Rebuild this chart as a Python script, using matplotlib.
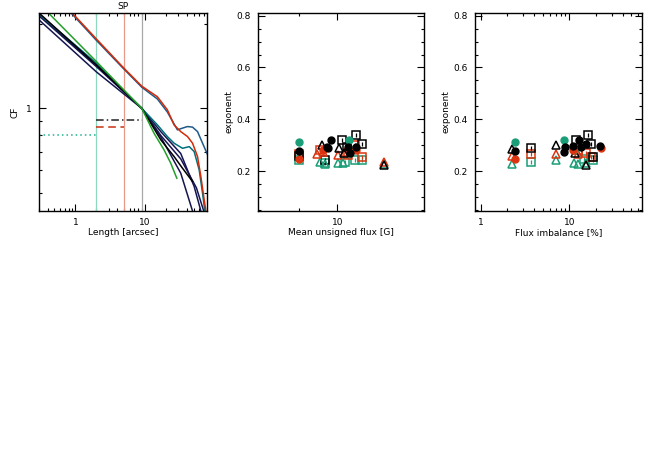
import matplotlib
matplotlib.use("Agg")
import matplotlib.pyplot as plt
from matplotlib.ticker import FixedLocator, FixedFormatter, NullFormatter

# ---- panel 1: CF curves (SP) ----
red_x = [0.9, 2, 5, 9, 15.1, 21, 26.2, 32.7, 40.9, 48.3, 57, 63.7, 71.1, 75.2]
red_y = [2.19, 1.77, 1.39, 1.20, 1.10, 0.988, 0.873, 0.826, 0.793, 0.751, 0.673, 0.57, 0.471, 0.43]
blue_x = [0.9, 2, 5, 9, 15.1, 21, 26.2, 29.3, 34.7, 40.9, 48.3, 57, 67.3, 77.7, 80]
blue_y = [2.17, 1.75, 1.38, 1.19, 1.08, 0.97, 0.88, 0.838, 0.85, 0.861, 0.857, 0.826, 0.751, 0.692, 0.68]
teal_x = [0.3, 2, 9, 15.1, 21, 26.2, 34.7, 43.3, 51, 60.2, 67.3, 72.6]
teal_y = [2.17, 1.45, 1.0, 0.873, 0.793, 0.751, 0.72, 0.73, 0.701, 0.603, 0.498, 0.43]
green_x = [0.41, 2, 4.0, 9, 13.5, 18.8, 23.5, 28.7]
green_y = [2.19, 1.47, 1.23, 1.0, 0.815, 0.711, 0.637, 0.563]
black_x = [0.3, 2, 9, 16.9, 26.2, 34.7, 48.3]
black_y = [2.19, 1.43, 1.0, 0.772, 0.673, 0.611, 0.548]
navy1_x = [0.3, 2, 9, 16.9, 32.7, 51, 63.7]
navy1_y = [2.07, 1.35, 1.0, 0.826, 0.69, 0.526, 0.43]
navy2_x = [0.3, 2, 9, 16.9, 32.7, 48.3]
navy2_y = [2.14, 1.41, 1.0, 0.79, 0.587, 0.43]
navy3_x = [0.3, 2, 9, 16.9, 32.7, 55, 70]
navy3_y = [2.16, 1.42, 1.0, 0.80, 0.66, 0.52, 0.43]

vlines_x = [2, 5, 9]
dot_level = 0.805     # teal dotted, up to 2"
dash_level = 0.859    # red dashed, 2"-5"
dashdot_level = 0.905 # black dash-dot, 2"-9"

# ---- panel 2: exponent vs mean unsigned flux ----
p2_gc_x = [4.99, 12.4]
p2_gc_y = [0.313, 0.319]
p2_kc_x = [4.99, 8.91, 8.24, 8.48, 12.2, 12.6, 14.1]
p2_kc_y = [0.278, 0.322, 0.294, 0.290, 0.294, 0.271, 0.294]
p2_rc_x = [4.99, 14.1, 7.75]
p2_rc_y = [0.249, 0.281, 0.281]
p2_kt_x = [7.52, 10.3, 11.3, 23.6]
p2_kt_y = [0.303, 0.290, 0.271, 0.225]
p2_rt_x = [6.86, 7.75, 10.2, 11.5, 23.6]
p2_rt_y = [0.266, 0.274, 0.262, 0.274, 0.235]
p2_gt_x = [7.29, 7.99, 10.2, 11.2, 23.6]
p2_gt_y = [0.236, 0.230, 0.232, 0.232, 0.228]
p2_ks_x = [4.99, 7.99, 11.0, 12.0, 14.0, 15.6]
p2_ks_y = [0.258, 0.245, 0.322, 0.294, 0.339, 0.304]
p2_rs_x = [4.99, 7.29, 13.8, 15.6, 12.2]
p2_rs_y = [0.266, 0.281, 0.300, 0.255, 0.262]
p2_gs_x = [4.99, 7.99, 11.5, 13.8, 15.6]
p2_gs_y = [0.245, 0.232, 0.236, 0.245, 0.245]

# ---- panel 3: exponent vs flux imbalance ----
p3_gc_x = [2.42, 8.77, 11.2]
p3_gc_y = [0.313, 0.319, 0.281]
p3_kc_x = [2.42, 9.0, 8.77, 10.9, 13.0, 13.6, 15.5, 22.0]
p3_kc_y = [0.278, 0.294, 0.274, 0.299, 0.322, 0.294, 0.304, 0.298]
p3_rc_x = [2.42, 10.9, 22.6]
p3_rc_y = [0.249, 0.281, 0.290]
p3_kt_x = [2.26, 7.05, 11.7, 15.5]
p3_kt_y = [0.287, 0.303, 0.271, 0.223]
p3_rt_x = [2.26, 7.05, 12.4]
p3_rt_y = [0.258, 0.266, 0.266]
p3_gt_x = [2.26, 7.05, 11.4, 12.4, 15.2]
p3_gt_y = [0.230, 0.245, 0.232, 0.230, 0.232]
p3_ks_x = [3.66, 11.9, 16.2, 17.7, 18.4]
p3_ks_y = [0.290, 0.322, 0.339, 0.304, 0.255]
p3_rs_x = [3.66, 12.4, 15.5, 17.7]
p3_rs_y = [0.268, 0.283, 0.271, 0.255]
p3_gs_x = [3.66, 14.8, 18.4]
p3_gs_y = [0.236, 0.249, 0.242]

GREEN = "#1a9e77"
RED = "#dc3410"
BLACK = "#000000"

plt.rcParams["font.family"] = "DejaVu Sans"
plt.rcParams["font.size"] = 6.5


def style_axes(ax):
    for s in ax.spines.values():
        s.set_linewidth(1.0)
    ax.tick_params(which="both", direction="in", top=True, right=True, width=0.8)
    ax.tick_params(which="major", length=5, labelsize=6.5, pad=5)
    ax.tick_params(which="minor", length=2.5)


fig = plt.figure(figsize=(6.54, 4.72), dpi=100)

# panel 1
ax1 = fig.add_axes([39 / 654, 1 - 211 / 472, 168 / 654, 198 / 472])
ax1.set_xscale("log")
ax1.set_yscale("log")
ax1.set_xlim(0.3, 78)
ax1.set_ylim(0.43, 2.19)
ax1.axvline(vlines_x[0], color="#8fd8c0", lw=0.9)
ax1.axvline(vlines_x[1], color="#e89a88", lw=0.9)
ax1.axvline(vlines_x[2], color="#a8a8a8", lw=0.9)
ax1.plot([0.3, vlines_x[0]], [dot_level, dot_level], color="#20b090", lw=1.1, ls=(0, (1, 2)))
ax1.plot([vlines_x[0], vlines_x[1]], [dash_level, dash_level], color="#c83010", lw=1.1, ls=(0, (5, 3)))
ax1.plot([vlines_x[0], vlines_x[2]], [dashdot_level, dashdot_level], color="#222222", lw=1.1, ls=(0, (5, 2, 1, 2)))
lw = 1.1
ax1.plot(navy1_x, navy1_y, color="#151550", lw=lw)
ax1.plot(navy3_x, navy3_y, color="#151550", lw=lw)
ax1.plot(navy2_x, navy2_y, color="#151550", lw=lw)
ax1.plot(blue_x, blue_y, color="#1f5a88", lw=lw)
ax1.plot(teal_x, teal_y, color="#00707a", lw=lw)
ax1.plot(black_x, black_y, color="#000000", lw=lw)
ax1.plot(green_x, green_y, color="#22a02a", lw=lw)
ax1.plot(red_x, red_y, color="#d42a0a", lw=lw)
ax1.xaxis.set_major_locator(FixedLocator([1, 10]))
ax1.xaxis.set_major_formatter(FixedFormatter(["1", "10"]))
ax1.xaxis.set_minor_locator(FixedLocator([0.3, 0.4, 0.5, 0.6, 0.7, 0.8, 0.9, 2, 3, 4, 5, 6, 7, 8, 9,
                                          20, 30, 40, 50, 60, 70]))
ax1.xaxis.set_minor_formatter(NullFormatter())
ax1.yaxis.set_major_locator(FixedLocator([1]))
ax1.yaxis.set_major_formatter(FixedFormatter(["1"]))
ax1.yaxis.set_minor_locator(FixedLocator([0.5, 0.6, 0.7, 0.8, 0.9, 2]))
ax1.yaxis.set_minor_formatter(NullFormatter())
style_axes(ax1)
ax1.set_xlabel("Length [arcsec]", labelpad=1)
ax1.set_ylabel("CF", labelpad=5)
ax1.set_title("SP", fontsize=6.5, pad=3)


def scatter_panel(ax, gc, kc, rc, kt, rt, gt, ks, rs, gs):
    ms_c, ms_t, ms_s = 5.0, 6.0, 5.8
    ax.plot(*gs, ls="none", marker="s", ms=ms_s, mfc="none", mec=GREEN, mew=1.1)
    ax.plot(*gs, ls="none", marker="|", ms=2.5, mec=GREEN, mew=0.9)
    ax.plot(*rs, ls="none", marker="s", ms=ms_s, mfc="none", mec=RED, mew=1.1)
    ax.plot(*rs, ls="none", marker="|", ms=2.5, mec=RED, mew=0.9)
    ax.plot(*ks, ls="none", marker="s", ms=ms_s, mfc="none", mec=BLACK, mew=1.1)
    ax.plot(*ks, ls="none", marker="|", ms=2.5, mec=BLACK, mew=0.9)
    ax.plot(*gt, ls="none", marker="^", ms=ms_t, mfc="none", mec=GREEN, mew=1.1)
    ax.plot(*rt, ls="none", marker="^", ms=ms_t, mfc="none", mec=RED, mew=1.1)
    ax.plot(*kt, ls="none", marker="^", ms=ms_t, mfc="none", mec=BLACK, mew=1.1)
    ax.plot(*gc, ls="none", marker="o", ms=ms_c, color=GREEN)
    ax.plot(*rc, ls="none", marker="o", ms=ms_c, color=RED)
    ax.plot(*kc, ls="none", marker="o", ms=ms_c, color=BLACK)
    ax.set_ylim(0.047, 0.81)
    ax.yaxis.set_major_locator(FixedLocator([0.2, 0.4, 0.6, 0.8]))
    ax.yaxis.set_major_formatter(FixedFormatter(["0.2", "0.4", "0.6", "0.8"]))
    ax.yaxis.set_minor_locator(FixedLocator([0.05 * i for i in range(1, 17)]))
    ax.set_ylabel("exponent", labelpad=2)


# panel 2
ax2 = fig.add_axes([258 / 654, 1 - 211 / 472, 166 / 654, 198 / 472])
ax2.set_xscale("log")
scatter_panel(ax2, (p2_gc_x, p2_gc_y), (p2_kc_x, p2_kc_y), (p2_rc_x, p2_rc_y),
              (p2_kt_x, p2_kt_y), (p2_rt_x, p2_rt_y), (p2_gt_x, p2_gt_y),
              (p2_ks_x, p2_ks_y), (p2_rs_x, p2_rs_y), (p2_gs_x, p2_gs_y))
ax2.set_xlim(2.35, 48.8)
ax2.xaxis.set_major_locator(FixedLocator([10]))
ax2.xaxis.set_major_formatter(FixedFormatter(["10"]))
ax2.xaxis.set_minor_locator(FixedLocator([5]))
ax2.xaxis.set_minor_formatter(NullFormatter())
style_axes(ax2)
ax2.set_xlabel("Mean unsigned flux [G]", labelpad=1)

# panel 3
ax3 = fig.add_axes([475 / 654, 1 - 211 / 472, 167 / 654, 198 / 472])
ax3.set_xscale("log")
scatter_panel(ax3, (p3_gc_x, p3_gc_y), (p3_kc_x, p3_kc_y), (p3_rc_x, p3_rc_y),
              (p3_kt_x, p3_kt_y), (p3_rt_x, p3_rt_y), (p3_gt_x, p3_gt_y),
              (p3_ks_x, p3_ks_y), (p3_rs_x, p3_rs_y), (p3_gs_x, p3_gs_y))
ax3.set_xlim(0.86, 66)
ax3.xaxis.set_major_locator(FixedLocator([1, 10]))
ax3.xaxis.set_major_formatter(FixedFormatter(["1", "10"]))
ax3.xaxis.set_minor_locator(FixedLocator([2, 3, 4, 5, 6, 7, 8, 9, 20, 30, 40, 50, 60]))
ax3.xaxis.set_minor_formatter(NullFormatter())
style_axes(ax3)
ax3.set_xlabel("Flux imbalance [%]", labelpad=1)

fig.savefig("out.png", dpi=100)
